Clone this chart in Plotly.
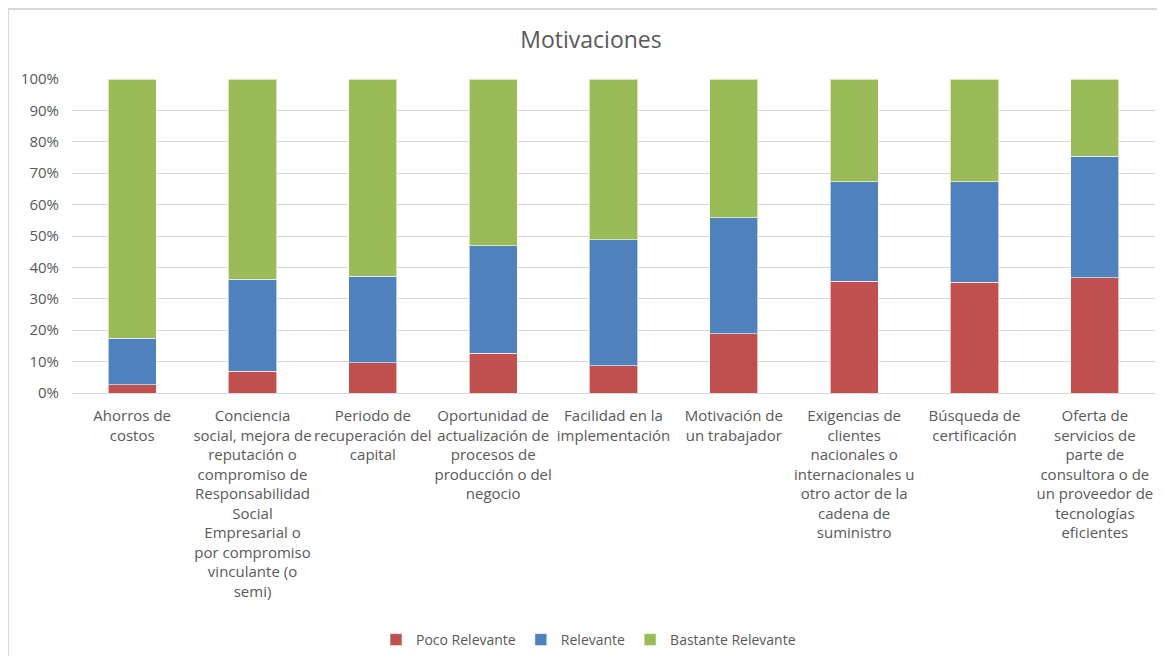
import plotly.graph_objects as go

categories = [
    "Ahorros de<br>costos",
    "Conciencia<br>social, mejora de<br>reputación o<br>compromiso de<br>Responsabilidad<br>Social<br>Empresarial o<br>por compromiso<br>vinculante (o<br>semi)",
    "Periodo de<br>recuperación del<br>capital",
    "Oportunidad de<br>actualización de<br>procesos de<br>producción o del<br>negocio",
    "Facilidad en la<br>implementación",
    "Motivación de<br>un trabajador",
    "Exigencias de<br>clientes<br>nacionales o<br>internacionales u<br>otro actor de la<br>cadena de<br>suministro",
    "Búsqueda de<br>certificación",
    "Oferta de<br>servicios de<br>parte de<br>consultora o de<br>un proveedor de<br>tecnologías<br>eficientes",
]

poco_relevante = [2.7, 6.9, 9.6, 12.6, 8.7, 18.9, 35.6, 35.2, 36.7]
relevante = [14.8, 29.4, 27.6, 34.3, 40.1, 36.9, 31.6, 32.0, 38.7]
bastante_relevante = [82.5, 63.7, 62.8, 53.1, 51.2, 44.2, 32.8, 32.8, 24.6]

series_names = ["Poco Relevante", "Relevante", "Bastante Relevante"]
series_colors = ["#C0504D", "#4F81BD", "#9BBB59"]
y_ticks = [0, 10, 20, 30, 40, 50, 60, 70, 80, 90, 100]
y_tick_labels = [f"{v}%" for v in y_ticks]

FONT = "Open Sans, sans-serif"
GRAY = "#595959"

# page has an 8px body margin; figure coordinates are shifted accordingly
W, H = 1149, 648
L, R, T, B = 64, 2, 71, 263
PW = W - L - R
PH = H - T - B

fig = go.Figure()
for name, vals, col in zip(series_names, [poco_relevante, relevante, bastante_relevante], series_colors):
    fig.add_trace(go.Bar(
        x=categories, y=vals, name=name,
        marker=dict(color=col, line=dict(color="rgba(255,255,255,0.6)", width=1)),
        width=0.40,
    ))

fig.update_layout(
    barmode="stack",
    width=W, height=H,
    paper_bgcolor="white", plot_bgcolor="white",
    margin=dict(l=L, r=R, t=T, b=B, autoexpand=False),
    title=dict(text="Motivaciones", x=583 / W, xanchor="center", y=1 - 32 / H, yanchor="middle",
               font=dict(family=FONT, size=23, color=GRAY)),
    font=dict(family=FONT, color=GRAY),
    xaxis=dict(
        tickfont=dict(family=FONT, size=15, color=GRAY),
        showline=True, linecolor="#d9d9d9", linewidth=1,
        ticks="", tickangle=0, automargin=False, ticklabelstandoff=9,
    ),
    yaxis=dict(
        range=[0, 100], tickvals=y_ticks, ticktext=y_tick_labels,
        tickfont=dict(family=FONT, size=15, color=GRAY),
        gridcolor="#d9d9d9", gridwidth=1, showline=False, zeroline=False,
        ticks="", ticklabelstandoff=12, automargin=False,
    ),
    legend=dict(
        orientation="h", x=(368 - L) / PW, xanchor="left", y=-247 / PH, yanchor="middle",
        font=dict(family=FONT, size=14, color=GRAY),
        traceorder="normal", itemwidth=30,
    ),
    showlegend=True,
    shapes=[dict(type="rect", xref="paper", yref="paper",
                 x0=(0 - L) / PW, x1=1.2, y0=-1.0, y1=(PH + T - 1) / PH,
                 line=dict(color="#d9d9d9", width=2), fillcolor="rgba(0,0,0,0)", layer="below")],
)

fig.write_html("out.html")
